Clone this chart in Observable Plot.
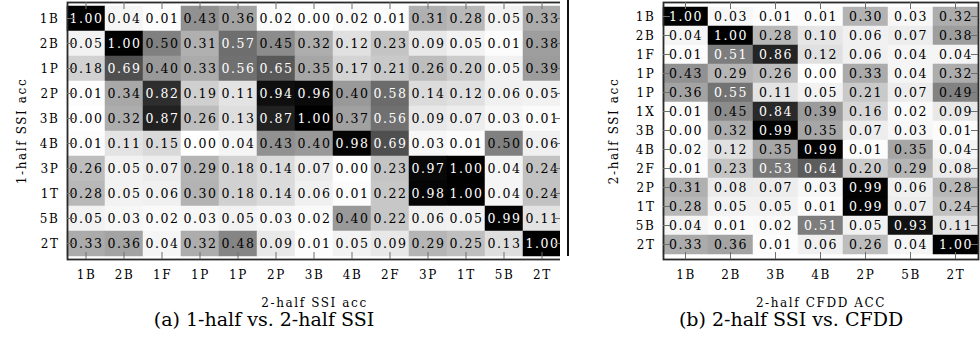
<!DOCTYPE html>
<html><head><meta charset="utf-8">
<script src="https://cdn.jsdelivr.net/npm/d3@7"></script>
<script src="https://cdn.jsdelivr.net/npm/@observablehq/plot@0.6"></script>
<style>
body{margin:0;background:#fff;}
#wrap{position:relative;width:980px;height:345px;overflow:hidden;font-family:"DejaVu Serif",serif;}
.panel{position:absolute;top:0;}
.cap{position:absolute;top:308px;font-size:19px;line-height:22px;transform:translateX(-50%);white-space:nowrap;color:#000;}
</style></head><body><div id="wrap"></div>
<script>
// (a) 1-half vs. 2-half SSI
const leftRows = ["1B","2B","1P","2P","3B","4B","3P","1T","5B","2T"];
const leftCols = ["1B","2B","1F","1P","1P","2P","3B","4B","2F","3P","1T","5B","2T"];
const leftValues = [
  [1.00,0.04,0.01,0.43,0.36,0.02,0.00,0.02,0.01,0.31,0.28,0.05,0.33],
  [0.05,1.00,0.50,0.31,0.57,0.45,0.32,0.12,0.23,0.09,0.05,0.01,0.38],
  [0.18,0.69,0.40,0.33,0.56,0.65,0.35,0.17,0.21,0.26,0.20,0.05,0.39],
  [0.01,0.34,0.82,0.19,0.11,0.94,0.96,0.40,0.58,0.14,0.12,0.06,0.05],
  [0.00,0.32,0.87,0.26,0.13,0.87,1.00,0.37,0.56,0.09,0.07,0.03,0.01],
  [0.01,0.11,0.15,0.00,0.04,0.43,0.40,0.98,0.69,0.03,0.01,0.50,0.06],
  [0.26,0.05,0.07,0.29,0.18,0.14,0.07,0.00,0.23,0.97,1.00,0.04,0.24],
  [0.28,0.05,0.06,0.30,0.18,0.14,0.06,0.01,0.22,0.98,1.00,0.04,0.24],
  [0.05,0.03,0.02,0.03,0.05,0.03,0.02,0.40,0.22,0.06,0.05,0.99,0.11],
  [0.33,0.36,0.04,0.32,0.48,0.09,0.01,0.05,0.09,0.29,0.25,0.13,1.00]
];
const leftXLabel = "2-half SSI acc";
const leftYLabel = "1-half SSI acc";
const leftCaption = "(a) 1-half vs. 2-half SSI";

// (b) 2-half SSI vs. CFDD
const rightRows = ["1B","2B","1F","1P","1P","1X","3B","4B","2F","2P","1T","5B","2T"];
const rightCols = ["1B","2B","3B","4B","2P","5B","2T"];
const rightValues = [
  [1.00,0.03,0.01,0.01,0.30,0.03,0.32],
  [0.04,1.00,0.28,0.10,0.06,0.07,0.38],
  [0.01,0.51,0.86,0.12,0.06,0.04,0.04],
  [0.43,0.29,0.26,0.00,0.33,0.04,0.32],
  [0.36,0.55,0.11,0.05,0.21,0.07,0.49],
  [0.01,0.45,0.84,0.39,0.16,0.02,0.09],
  [0.00,0.32,0.99,0.35,0.07,0.03,0.01],
  [0.02,0.12,0.35,0.99,0.01,0.35,0.04],
  [0.01,0.23,0.53,0.64,0.20,0.29,0.08],
  [0.31,0.08,0.07,0.03,0.99,0.06,0.28],
  [0.28,0.05,0.05,0.01,0.99,0.07,0.24],
  [0.04,0.01,0.02,0.51,0.05,0.93,0.11],
  [0.33,0.36,0.01,0.06,0.26,0.04,1.00]
];
const rightXLabel = "2-half CFDD ACC";
const rightYLabel = "2-half SSI acc";
const rightCaption = "(b) 2-half SSI vs. CFDD";

function heat(rows, cols, values, o) {
  const data = [];
  values.forEach((row, i) => row.forEach((v, j) => data.push({i, j, v})));
  const plot = Plot.plot({
    width: o.width, height: 312,
    marginLeft: o.ml, marginRight: 2, marginTop: 2, marginBottom: 53,
    style: {fontFamily: "'DejaVu Serif', serif", fontSize: "12px", letterSpacing: "1.6px", background: "white", color: "black"},
    x: {domain: d3.range(cols.length), tickFormat: j => cols[j], tickSize: 0, tickPadding: 11,
        label: o.xlabel, labelAnchor: "center", labelOffset: 47, padding: 0},
    y: {domain: d3.range(rows.length), tickFormat: i => rows[i], tickSize: 0, tickPadding: 8,
        label: o.ylabel, labelAnchor: "center", labelOffset: o.ylo, padding: 0},
    color: {type: "linear", domain: [0, 1], range: ["#ffffff", "#000000"]},
    marks: [
      Plot.cell(data, {x: "j", y: "i", fill: "v", stroke: "v", strokeWidth: 0.5}),
      Plot.text(data, {x: "j", y: "i", text: d => d.v.toFixed(2), fill: d => d.v > 0.505 ? "white" : "black", fontSize: 12.5}),
      Plot.frame({stroke: "#2a2a2a", strokeWidth: 1.8})
    ]
  });
  // inward tick marks at category centres, positioned with the plot's own scales
  const xs = plot.scale("x"), ys = plot.scale("y");
  const x0 = o.ml, x1 = o.width - 2, y0 = 2, y1 = 312 - 53;
  const g = d3.select(plot).append("g").attr("stroke", "#6e6e6e").attr("stroke-width", 1);
  d3.range(cols.length).forEach(j => {
    const x = xs.apply(j) + xs.bandwidth / 2;
    g.append("line").attr("x1", x).attr("x2", x).attr("y1", y0).attr("y2", y0 + 7);
    g.append("line").attr("x1", x).attr("x2", x).attr("y1", y1).attr("y2", y1 - 7);
  });
  d3.range(rows.length).forEach(i => {
    const y = ys.apply(i) + ys.bandwidth / 2;
    g.append("line").attr("y1", y).attr("y2", y).attr("x1", x0).attr("x2", x0 + 7);
    g.append("line").attr("y1", y).attr("y2", y).attr("x1", x1).attr("x2", x1 - 7);
  });
  if (o.sep) {
    // subfigure separator line seen in the reference
    d3.select(plot).append("line").attr("x1", o.sep).attr("x2", o.sep).attr("y1", 0).attr("y2", 256)
      .attr("stroke", "#111").attr("stroke-width", 2);
  }
  return plot;
}

const wrap = document.getElementById("wrap");
const L = heat(leftRows, leftCols, leftValues, {width: 563, ml: 67, xlabel: leftXLabel, ylabel: leftYLabel, ylo: 50});
L.classList.add("panel"); L.style.left = "0px";
wrap.appendChild(L);
const R = heat(rightRows, rightCols, rightValues, {width: 420, ml: 103, xlabel: rightXLabel, ylabel: rightYLabel, ylo: 54, sep: 8});
R.classList.add("panel"); R.style.left = "560px";
wrap.appendChild(R);

const c1 = document.createElement("div"); c1.className = "cap"; c1.style.left = "264px"; c1.textContent = leftCaption; wrap.appendChild(c1);
const c2 = document.createElement("div"); c2.className = "cap"; c2.style.left = "791px"; c2.textContent = rightCaption; wrap.appendChild(c2);
</script></body></html>
